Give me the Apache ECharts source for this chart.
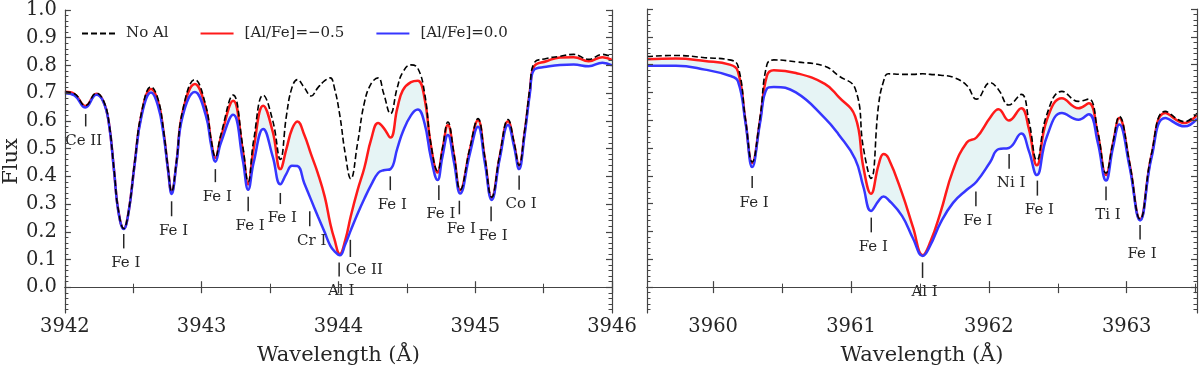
<!DOCTYPE html>
<html>
<head>
<meta charset="utf-8">
<title>Al I lines</title>
<script src="https://cdn.jsdelivr.net/npm/echarts@6/dist/echarts.min.js"></script>
<style>
    html, body { margin: 0; padding: 0; background: #fff; }
    #spec-chart { width: 1200px; height: 371px; }
</style>
</head>
<body>
<div id="spec-chart"></div>
<script>
// left panel, 3942-3946 A
let leftWave = [3942.00, 3942.07, 3942.15, 3942.23, 3942.28, 3942.32, 3942.36, 3942.39, 3942.43, 3942.465,
    3942.51, 3942.56, 3942.63, 3942.68, 3942.72, 3942.755, 3942.78, 3942.815, 3942.86, 3942.95,
    3943.03, 3943.07, 3943.10, 3943.14, 3943.23, 3943.30, 3943.34, 3943.38, 3943.45, 3943.52,
    3943.575, 3943.62, 3943.66, 3943.70, 3943.75, 3943.80, 3943.85, 3943.90, 3943.94, 3943.97,
    3944.01, 3944.05, 3944.09, 3944.14, 3944.19, 3944.24, 3944.29, 3944.33, 3944.38, 3944.43,
    3944.47, 3944.53, 3944.58, 3944.63, 3944.675, 3944.725, 3944.76, 3944.80, 3944.845, 3944.89,
    3944.96, 3945.02, 3945.07, 3945.12, 3945.18, 3945.24, 3945.285, 3945.32, 3945.36, 3945.40,
    3945.43, 3945.52, 3945.62, 3945.72, 3945.83, 3945.93, 3946.00];
let leftNoAl = [0.705, 0.698, 0.655, 0.700, 0.675, 0.600, 0.420, 0.280, 0.212, 0.272,
    0.450, 0.630, 0.723, 0.680, 0.570, 0.425, 0.345, 0.450, 0.635, 0.749,
    0.655, 0.530, 0.470, 0.550, 0.693, 0.510, 0.380, 0.530, 0.693, 0.600,
    0.461, 0.620, 0.720, 0.749, 0.720, 0.690, 0.720, 0.745, 0.755, 0.720,
    0.620, 0.480, 0.391, 0.520, 0.667, 0.735, 0.755, 0.700, 0.626, 0.720,
    0.775, 0.802, 0.790, 0.700, 0.520, 0.420, 0.500, 0.596, 0.480, 0.352,
    0.500, 0.608, 0.470, 0.325, 0.480, 0.605, 0.520, 0.440, 0.560, 0.720,
    0.808, 0.825, 0.833, 0.840, 0.822, 0.840, 0.830];
let leftAlm05 = [0.705, 0.697, 0.654, 0.698, 0.672, 0.598, 0.418, 0.278, 0.211, 0.270,
    0.447, 0.625, 0.715, 0.672, 0.565, 0.422, 0.342, 0.447, 0.630, 0.733,
    0.645, 0.525, 0.467, 0.540, 0.673, 0.495, 0.371, 0.500, 0.655, 0.560,
    0.426, 0.500, 0.570, 0.598, 0.550, 0.479, 0.410, 0.326, 0.230, 0.174,
    0.120, 0.170, 0.256, 0.350, 0.432, 0.535, 0.592, 0.575, 0.540, 0.645,
    0.710, 0.740, 0.745, 0.680, 0.514, 0.414, 0.495, 0.585, 0.475, 0.350,
    0.495, 0.602, 0.465, 0.322, 0.475, 0.599, 0.515, 0.438, 0.555, 0.710,
    0.796, 0.815, 0.829, 0.830, 0.815, 0.830, 0.820];
let leftAl00 = [0.700, 0.692, 0.648, 0.694, 0.670, 0.596, 0.416, 0.275, 0.210, 0.268,
    0.444, 0.617, 0.702, 0.655, 0.555, 0.418, 0.336, 0.444, 0.615, 0.704,
    0.620, 0.510, 0.453, 0.520, 0.622, 0.460, 0.352, 0.450, 0.571, 0.470,
    0.371, 0.410, 0.438, 0.437, 0.375, 0.315, 0.255, 0.197, 0.150, 0.130,
    0.115, 0.155, 0.205, 0.265, 0.320, 0.370, 0.412, 0.422, 0.426, 0.500,
    0.560, 0.620, 0.641, 0.590, 0.470, 0.387, 0.470, 0.549, 0.450, 0.338,
    0.480, 0.579, 0.450, 0.315, 0.465, 0.585, 0.505, 0.426, 0.545, 0.700,
    0.784, 0.795, 0.802, 0.803, 0.797, 0.810, 0.800];

// right panel, 3959.5-3963.5 A
let rightWave = [3959.52, 3959.73, 3959.94, 3960.12, 3960.18, 3960.235, 3960.283, 3960.34, 3960.39, 3960.44,
    3960.60, 3960.81, 3960.91, 3961.03, 3961.09, 3961.145, 3961.20, 3961.236, 3961.27, 3961.37,
    3961.45, 3961.52, 3961.575, 3961.65, 3961.74, 3961.84, 3961.91, 3962.01, 3962.07, 3962.145,
    3962.235, 3962.29, 3962.348, 3962.42, 3962.53, 3962.65, 3962.725, 3962.79, 3962.85, 3962.90,
    3962.946, 3963.02, 3963.097, 3963.18, 3963.28, 3963.42, 3963.51];
let rightNoAl = [0.829, 0.833, 0.825, 0.817, 0.795, 0.600, 0.450, 0.610, 0.800, 0.817,
    0.810, 0.794, 0.760, 0.714, 0.500, 0.391, 0.655, 0.740, 0.767, 0.765,
    0.765, 0.767, 0.765, 0.762, 0.755, 0.725, 0.676, 0.735, 0.710, 0.655,
    0.693, 0.600, 0.456, 0.620, 0.704, 0.668, 0.676, 0.560, 0.410, 0.520,
    0.614, 0.450, 0.245, 0.480, 0.632, 0.595, 0.625];
let rightAlm05 = [0.819, 0.822, 0.813, 0.800, 0.775, 0.596, 0.446, 0.600, 0.760, 0.780,
    0.770, 0.731, 0.684, 0.614, 0.430, 0.336, 0.440, 0.479, 0.465, 0.338,
    0.215, 0.115, 0.162, 0.270, 0.420, 0.520, 0.538, 0.610, 0.640, 0.599,
    0.643, 0.570, 0.438, 0.600, 0.679, 0.643, 0.661, 0.550, 0.403, 0.515,
    0.608, 0.445, 0.244, 0.475, 0.626, 0.590, 0.620];
let rightAl00 = [0.796, 0.796, 0.782, 0.760, 0.740, 0.590, 0.432, 0.590, 0.714, 0.720,
    0.700, 0.608, 0.549, 0.461, 0.360, 0.274, 0.310, 0.326, 0.315, 0.256,
    0.175, 0.112, 0.150, 0.232, 0.303, 0.350, 0.379, 0.450, 0.496, 0.500,
    0.552, 0.490, 0.403, 0.540, 0.626, 0.602, 0.622, 0.520, 0.383, 0.500,
    0.585, 0.435, 0.240, 0.465, 0.608, 0.578, 0.605];

// line identifications: wavelength, tick top / bottom in flux
let leftLineName = ['Ce II', 'Fe I', 'Fe I', 'Fe I', 'Fe I', 'Fe I', 'Cr I', 'Al I', 'Ce II', 'Fe I', 'Fe I', 'Fe I', 'Fe I', 'Co I'];
let leftLineWave = [3942.152, 3942.43, 3942.78, 3943.10, 3943.34, 3943.575, 3943.79, 3944.005, 3944.087, 3944.379, 3944.734, 3944.884, 3945.116, 3945.321];
let leftLineTop = [0.625, 0.192, 0.310, 0.426, 0.326, 0.340, 0.274, 0.089, 0.171, 0.400, 0.368, 0.312, 0.291, 0.403];
let leftLineBot = [0.580, 0.140, 0.256, 0.379, 0.274, 0.300, 0.220, 0.039, 0.109, 0.350, 0.315, 0.263, 0.238, 0.352];
let rightLineName = ['Fe I', 'Fe I', 'Al I', 'Fe I', 'Ni I', 'Fe I', 'Ti I', 'Fe I'];
let rightLineWave = [3960.283, 3961.147, 3961.519, 3961.906, 3962.147, 3962.352, 3962.85, 3963.097];
let rightLineTop = [0.400, 0.250, 0.089, 0.344, 0.479, 0.383, 0.362, 0.223];
let rightLineBot = [0.356, 0.197, 0.033, 0.291, 0.426, 0.329, 0.312, 0.171];

let seriesNames = ['No Al', '[Al/Fe]=\u22120.5', '[Al/Fe]=0.0'];

// ticks
let leftXTicks = [3942, 3943, 3944, 3945, 3946];
let leftXMinor = [3942.5, 3943.5, 3944.5, 3945.5];
let rightXTicks = [3960, 3961, 3962, 3963];
let rightXMinor = [3960.5, 3961.5, 3962.5, 3963.5];
let yTicks = [0.0, 0.1, 0.2, 0.3, 0.4, 0.5, 0.6, 0.7, 0.8, 0.9, 1.0];
let yMinor = [];
for (let k = -4; k <= 49; k++) {
    if (k % 5 !== 0) yMinor.push(k * 0.02);
}

const FONT = 'DejaVu Serif';
const INK = '#262626';
const SPINE = '#444';
const FILL = '#e6f4f5';
const yMin = -0.093, yMax = 1.0;

function pairs(xs, ys) {
    return xs.map((x, i) => [x, ys[i]]);
}

function xAxes(grid, min, max, major, minor) {
    let base = {
        gridIndex: grid, type: 'value', min: min, max: max, z: 10,
        splitLine: {show: false}
    };
    return [
        Object.assign({}, base, {
            position: 'bottom',
            axisLine: {show: true, lineStyle: {color: SPINE, width: 1.2}},
            axisTick: {show: true, inside: true, length: 6, customValues: major, lineStyle: {color: SPINE, width: 1.2}},
            axisLabel: {show: true, customValues: major, margin: 4, color: INK, fontFamily: FONT, fontSize: 19.5,
                formatter: v => String(Math.round(v))},
            name: 'Wavelength (\u00c5)',
            nameLocation: 'middle', nameGap: 32,
            nameTextStyle: {color: INK, fontFamily: FONT, fontSize: 21}
        }),
        Object.assign({}, base, {
            position: 'bottom',
            axisLine: {show: false},
            axisTick: {show: true, inside: true, length: 3.5, customValues: minor, lineStyle: {color: SPINE, width: 1}},
            axisLabel: {show: false}
        }),
        Object.assign({}, base, {
            position: 'top',
            axisLine: {show: true, lineStyle: {color: SPINE, width: 1.2}},
            axisTick: {show: true, inside: true, length: 6, customValues: major.concat(minor), lineStyle: {color: SPINE, width: 1.2}},
            axisLabel: {show: false}
        })
    ];
}

function yAxes(grid, withLabels) {
    let base = {gridIndex: grid, type: 'value', min: yMin, max: yMax, z: 10, splitLine: {show: false}};
    let out = [];
    ['left', 'right'].forEach(pos => {
        out.push(Object.assign({}, base, {
            position: pos,
            axisLine: {show: true, lineStyle: {color: SPINE, width: 1.2}},
            axisTick: {show: true, inside: true, length: 6, customValues: yTicks, lineStyle: {color: SPINE, width: 1.2}},
            axisLabel: {show: withLabels && pos === 'left', customValues: yTicks, margin: 8, color: INK,
                fontFamily: FONT, fontSize: 19.5, formatter: v => v.toFixed(1)},
            name: withLabels && pos === 'left' ? 'Flux' : '',
            nameLocation: 'middle', nameGap: 40,
            nameTextStyle: {color: INK, fontFamily: FONT, fontSize: 21}
        }));
        out.push(Object.assign({}, base, {
            position: pos,
            axisLine: {show: false},
            axisTick: {show: true, inside: true, length: 3.5, customValues: yMinor, lineStyle: {color: SPINE, width: 1}},
            axisLabel: {show: false}
        }));
    });
    return out;
}

function panelSeries(xi, yi, wave, noAl, alm05, al00, names, lw, top, bot, shift) {
    let line = {type: 'line', xAxisIndex: xi, yAxisIndex: yi, smooth: 0.45,
        symbol: 'none', silent: true, animation: false};
    return [
        // shaded band between the two Al curves: tint under red, then white under blue
        Object.assign({}, line, {name: 'band', data: pairs(wave, alm05),
            lineStyle: {opacity: 0}, areaStyle: {color: FILL, opacity: 1, origin: 'start'}, z: 1}),
        Object.assign({}, line, {name: 'mask', data: pairs(wave, al00),
            lineStyle: {opacity: 0}, areaStyle: {color: '#fff', opacity: 1, origin: 'start'}, z: 1}),
        Object.assign({}, line, {name: seriesNames[1], data: pairs(wave, alm05),
            lineStyle: {color: '#ff1a1a', width: 2.5}, itemStyle: {color: '#ff1a1a'}, z: 2}),
        Object.assign({}, line, {name: seriesNames[2], data: pairs(wave, al00),
            lineStyle: {color: '#3636ff', width: 2.5}, itemStyle: {color: '#3636ff'}, z: 3}),
        Object.assign({}, line, {name: seriesNames[0], data: pairs(wave, noAl),
            lineStyle: {color: '#000', width: 1.6, type: [6, 3]}, itemStyle: {color: '#000'}, z: 4}),
        {
            type: 'custom', xAxisIndex: xi, yAxisIndex: yi, silent: true, animation: false, z: 5,
            data: lw.map((x, i) => [x, top[i], bot[i]]),
            encode: {x: 0, y: [1, 2]},
            renderItem: function (params, api) {
                let i = params.dataIndex;
                let p1 = api.coord([api.value(0), api.value(1)]);
                let p2 = api.coord([api.value(0), api.value(2)]);
                let s = shift[i] || [2, 14.5];
                return {
                    type: 'group',
                    children: [
                        {type: 'line', shape: {x1: p1[0], y1: p1[1], x2: p2[0], y2: p2[1]},
                            style: {stroke: INK, lineWidth: 1.5}},
                        {type: 'text', x: p2[0] + s[0], y: p2[1] + s[1],
                            style: {text: names[i], fill: INK, font: '15px "DejaVu Serif"',
                                align: 'center', verticalAlign: 'middle'}}
                    ]
                };
            }
        }
    ];
}

let chart = echarts.init(document.getElementById('spec-chart'), null, {renderer: 'canvas'});
let option = {
    backgroundColor: '#fff',
    animation: false,
    grid: [
        {left: 61, top: 9, width: 551, height: 310},
        {left: 647, top: 9, width: 550, height: 310}
    ],
    legend: {
        data: seriesNames,
        left: 76, top: 21,
        itemWidth: 33, itemHeight: 14, itemGap: 31,
        itemStyle: {opacity: 0},
        textStyle: {color: INK, fontFamily: FONT, fontSize: 15, padding: [0, 0, 0, 6]}
    },
    xAxis: xAxes(0, 3942, 3946, leftXTicks, leftXMinor)
        .concat(xAxes(1, 3959.52, 3963.51, rightXTicks, rightXMinor)),
    yAxis: yAxes(0, true).concat(yAxes(1, false)),
    series: panelSeries(0, 0, leftWave, leftNoAl, leftAlm05, leftAl00,
            leftLineName, leftLineWave, leftLineTop, leftLineBot, {0: [-2, 14.5], 8: [14, 13]})
        .concat(panelSeries(3, 4, rightWave, rightNoAl, rightAlm05, rightAl00,
            rightLineName, rightLineWave, rightLineTop, rightLineBot, {}))
};
chart.setOption(option);
</script>
</body>
</html>
